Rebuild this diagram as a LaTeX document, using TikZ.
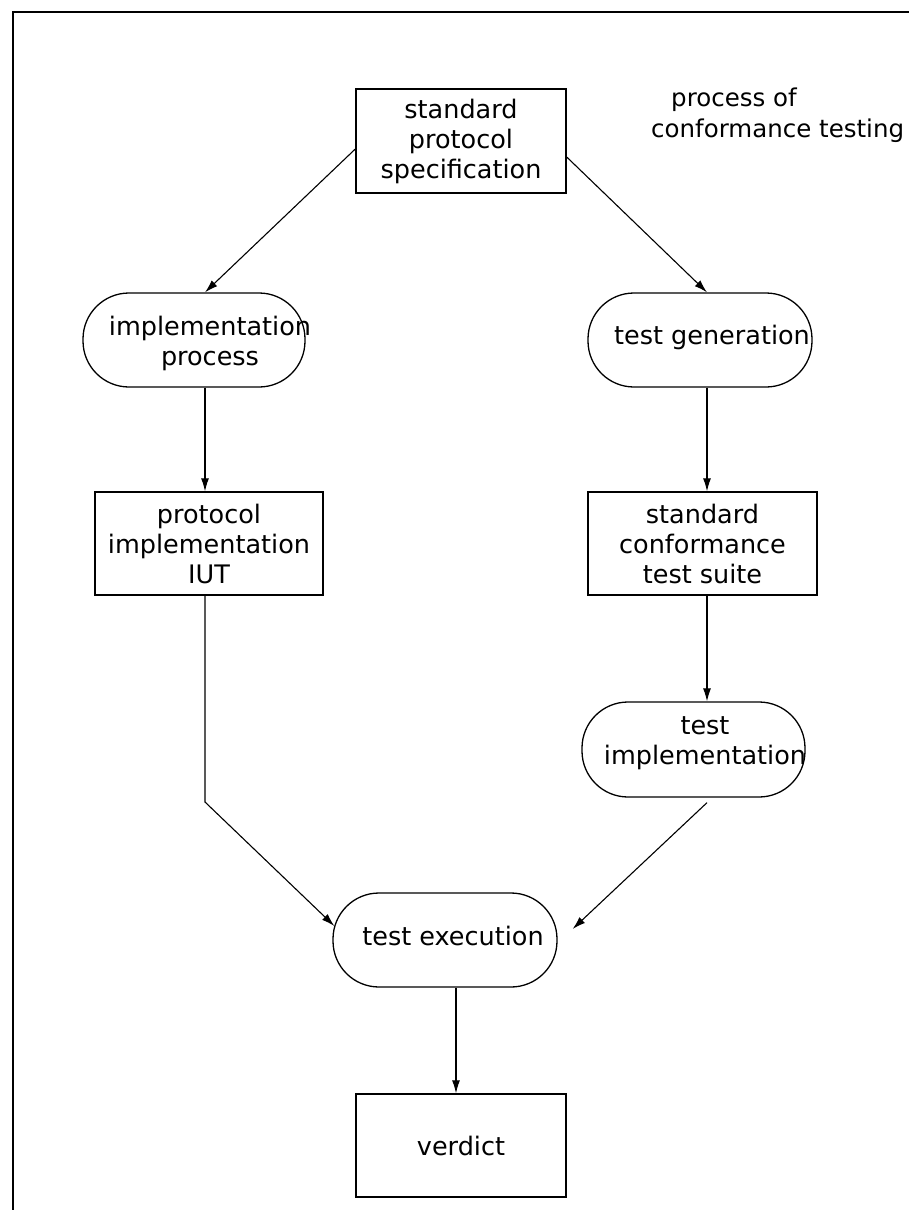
\documentclass[tikz,border=0pt]{standalone}
\usepackage{fontspec}
\setmainfont{DejaVu Sans}
\usetikzlibrary{arrows.meta}
\begin{document}
\begin{tikzpicture}[x=1pt,y=-1pt,
  every node/.style={font=\fontsize{25.5}{30}\selectfont, inner sep=0pt},
  stepbox/.style={draw, line width=1.4pt, minimum width=#1, minimum height=103pt, align=center},
  stadium/.style={draw, line width=1.3pt, rounded corners=46pt, minimum width=#1, minimum height=94pt},
  lbl/.style={align=center},
  conn/.style={line width=1.1pt, -{Latex[length=13pt,width=8pt]}},
  frame/.style={line width=2.4pt}
]
\useasboundingbox (0,0) rectangle (909,1210);

% page edge (top and left only)
\coordinate (fTL) at (13,12);
\coordinate (fTR) at (909,12);
\coordinate (fBL) at (13,1210);
\draw[frame] (fTR) -- (fTL) -- (fBL);

% columns used by the vertical connectors
\coordinate (colL) at (205,0);
\coordinate (colR) at (707,0);
\coordinate (colM) at (456,0);

% boxes
\node[stepbox=210pt, minimum height=104pt] (spec) at (461,141) {standard\\protocol\\specification};
\node[stepbox=228pt] (iut) at (209,543.5) {protocol\\implementation\\IUT};
\node[stepbox=229pt] (suite) at (702.5,543.5) {standard\\conformance\\test suite};
\node[stepbox=210pt] (verdict) at (461,1145.5) {verdict};

% rounded process shapes and their texts
\node[stadium=222pt] (impl) at (194,340) {};
\node[lbl] (implT) at (210,343) {implementation\\process};
\node[stadium=224pt] (gen) at (700,340) {};
\node[lbl] (genT) at (712,337) {test generation};
\node[stadium=223pt, minimum height=95pt] (timpl) at (693.5,749.5) {};
\node[lbl] (timplT) at (705,743) {test\\implementation};
\node[stadium=224pt] (exec) at (445,940) {};
\node[lbl] (execT) at (453,936) {test execution};

% caption
\node[anchor=north west, align=left, font=\fontsize{24.5}{31}\selectfont] (caption) at (651,88)
  {\hspace*{20pt}process of\\conformance testing};

% connectors
\draw[conn] ([yshift=-8pt]spec.west) -- (impl.north -| colL);
\draw[conn] ([yshift=-16pt]spec.east) -- (gen.north -| colR);
\draw[conn] (impl.south -| colL) -- (iut.north -| colL);
\draw[conn] (gen.south -| colR) -- (suite.north -| colR);
\draw[conn] (suite.south -| colR) -- (timpl.north -| colR);
\coordinate (bendL) at (205,802);
\draw[conn] (iut.south -| colL) -- (bendL) -- ([xshift=2pt,yshift=14pt]exec.west);
\draw[conn] ([yshift=-5pt]timpl.south -| colR) -- ([xshift=15pt,yshift=11pt]exec.east);
\draw[conn] (exec.south -| colM) -- (verdict.north -| colM);
\end{tikzpicture}
\end{document}
